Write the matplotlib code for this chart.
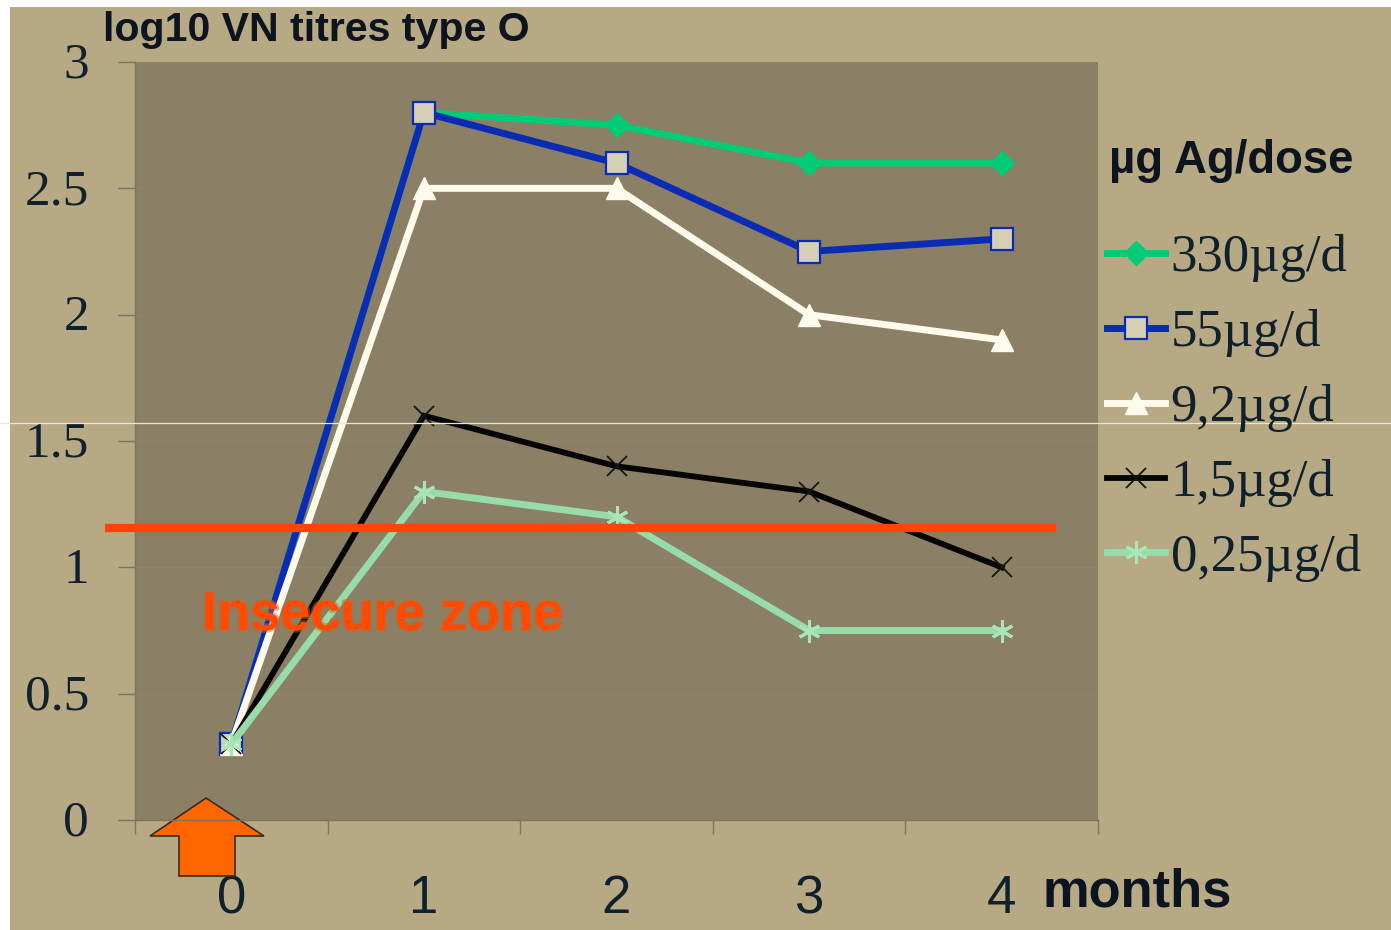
import matplotlib
matplotlib.use("Agg")
import matplotlib.pyplot as plt
from matplotlib.patches import Rectangle, Polygon
from matplotlib.lines import Line2D
from matplotlib.transforms import ScaledTranslation
import matplotlib.patheffects as pe

months = [0, 1, 2, 3, 4]
series_labels = ["330µg/d", "55µg/d", "9,2µg/d", "1,5µg/d", "0,25µg/d"]
v330 = [0.3, 2.8, 2.75, 2.6, 2.6]
v55 = [0.3, 2.8, 2.6, 2.25, 2.3]
v9 = [0.3, 2.5, 2.5, 2.0, 1.9]
v1 = [0.3, 1.6, 1.4, 1.3, 1.0]
v025 = [0.3, 1.3, 1.2, 0.75, 0.75]
threshold = 1.155
y_ticks = [0, 0.5, 1, 1.5, 2, 2.5, 3]
y_labels = ["0", "0.5", "1", "1.5", "2", "2.5", "3"]

W, H = 1391, 930
BG, PLOT = "#b6a983", "#8b8065"
SERIF, SANS = "Liberation Serif", "Liberation Sans"
INK = "#10202c"

fig = plt.figure(figsize=(W / 100, H / 100), dpi=100, facecolor="white")
fig.add_artist(Rectangle((10 / W, 0), (W - 10) / W, (H - 7) / H, transform=fig.transFigure, fc=BG, ec="none", zorder=-5))

ax = fig.add_axes([135 / W, 1 - 820 / H, (1098 - 135) / W, (820 - 62) / H], facecolor=PLOT)
px = fig.add_axes([0, 0, 1, 1], facecolor="none", zorder=5)
px.set_xlim(0, W); px.set_ylim(H, 0); px.axis("off")

styles = [
    dict(color="#00cc77", lw=5, marker="D", ms=12, mfc="#00cc77", mec="#00cc77", mew=1),
    dict(color="#0a2cb4", lw=5, marker="s", ms=16, mfc="#d6cfb6", mec="#0a2cb4", mew=1.6),
    dict(color="#fffaec", lw=5, marker="^", ms=16, mfc="#fffaec", mec="#fffaec", mew=1),
    dict(color="#050505", lw=4.2, marker="x", ms=15, mec="#151515", mew=1.3),
    dict(color="#99dcab", lw=5, marker=(6, 2, 0), ms=16, mec="#a8e6b8", mew=2.2),
]
for vals, st, lab in zip([v330, v55, v9, v1, v025], styles, series_labels):
    ax.plot(months, vals, label=lab, solid_joinstyle="miter", zorder=3, **st)

ax.set_xlim(-0.5, 4.5); ax.set_ylim(0, 3)
ax.set_yticks(y_ticks, y_labels, fontfamily=SERIF, fontsize=37, color=INK)
ax.set_xticks([-0.5, 0.5, 1.5, 2.5, 3.5, 4.5], [""] * 6)
ax.set_xticks(months, [str(m) for m in months], minor=True, fontfamily=SANS, fontsize=38, color=INK)
ax.tick_params(axis="y", length=12, width=1, color="#7d7360", pad=21)
ax.tick_params(axis="x", which="major", length=10, width=1, color="#7d7360")
ax.tick_params(axis="x", which="minor", length=0, pad=39)
ax.grid(axis="y", color="#8f8469", lw=0.8)
ax.set_axisbelow(True)
for s in ("top", "right"):
    ax.spines[s].set_visible(False)
for s in ("left", "bottom"):
    ax.spines[s].set_color("#7d7360"); ax.spines[s].set_linewidth(1)
up = ScaledTranslation(0, 2 / 100, fig.dpi_scale_trans)
for lbl in ax.get_yticklabels():
    lbl.set_transform(lbl.get_transform() + up)

handles, labels = ax.get_legend_handles_labels()
leg = px.legend(handles, labels, loc="upper left", bbox_to_anchor=(1102 / W, 1 - 229 / H), frameon=False,
                prop={"family": SERIF, "size": 38}, labelcolor=INK, handlelength=1.1,
                handletextpad=0.1, labelspacing=0.51, numpoints=1, borderpad=0.1, borderaxespad=0)

px.text(103, 30, "log10 VN titres type O", family=SANS, weight="bold", fontsize=29.6, color="#0c1420", va="center", ha="left")
px.text(1109, 161, "µg Ag/dose", family=SANS, weight="bold", fontsize=32.8, color="#0c1420", va="center", ha="left")
px.text(1043, 892, "months", family=SANS, weight="bold", fontsize=37.8, color="#0c1420", va="center", ha="left")
px.text(202, 616, "Insecure zone", family=SANS, weight="bold", fontsize=39, color="#ff4a00", va="center", ha="left",
        path_effects=[pe.withStroke(linewidth=3, foreground="#c06a30", alpha=0.5)])

ax.add_line(Line2D([-0.5 + (105 - 135) / 192.6, -0.5 + (1056 - 135) / 192.6], [threshold, threshold],
                   color="#ff4400", lw=6, clip_on=False, zorder=4, solid_capstyle="butt"))

arrow = Polygon([(206, 798), (264, 836), (235, 836), (235, 876), (179, 876), (179, 836), (150, 836)],
                closed=True, fc="#ff6600", ec="#3a2a18", lw=1.2, transform=px.transData, clip_on=False, zorder=1.2)
ax.add_patch(arrow)

px.add_line(Line2D([0, W], [423, 423], color="#e9e5d9", lw=0.9))

fig.savefig("out.png", dpi=100, facecolor="white")
